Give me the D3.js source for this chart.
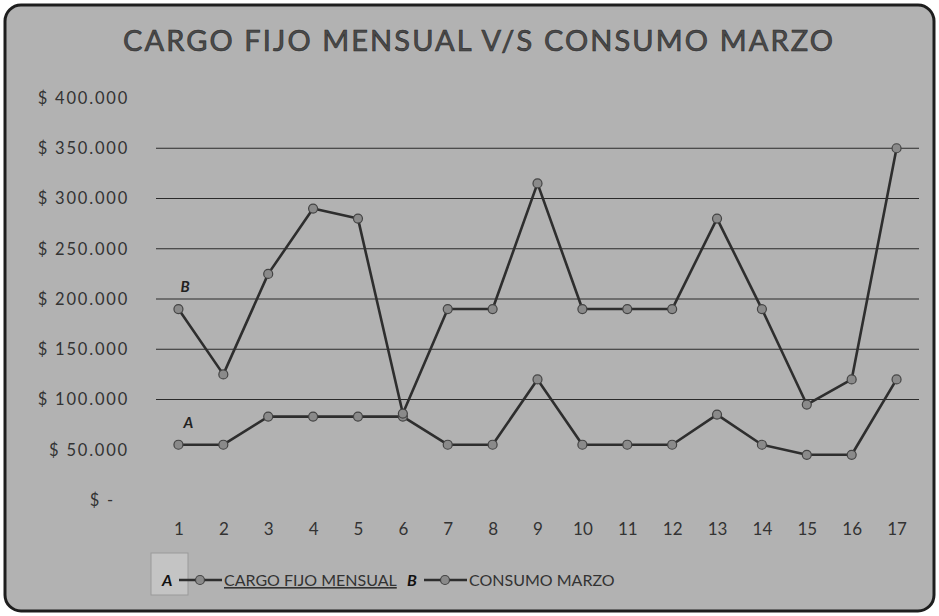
<!DOCTYPE html>
<html>
<head>
<meta charset="utf-8">
<script src="https://cdn.jsdelivr.net/npm/d3@7"></script>
<style>
  body { margin: 0; background: #fff; }
  text { font-family: Lato, "Open Sans", sans-serif; }
</style>
</head>
<body>
<div id="chart"></div>
<script>
const W = 939, H = 616;

// data
const days = d3.range(1, 18).map(String);
const cargoFijo = [55000, 55000, 83000, 83000, 83000, 83000, 55000, 55000, 120000, 55000, 55000, 55000, 85000, 55000, 45000, 45000, 120000];
const consumoMarzo = [190000, 125000, 225000, 290000, 280000, 86000, 190000, 190000, 315000, 190000, 190000, 190000, 280000, 190000, 95000, 120000, 350000];
const yTicks = [0, 50000, 100000, 150000, 200000, 250000, 300000, 350000, 400000];
const gridTicks = [100000, 150000, 200000, 250000, 300000, 350000];
const seriesNames = ["CARGO FIJO MENSUAL", "CONSUMO MARZO"];
const seriesTags = ["A", "B"];

const plot = {left: 156, right: 919, top: 98, bottom: 500};

const svg = d3.select("#chart").append("svg")
  .attr("width", W).attr("height", H);

//--------------------------- FRAME
svg.append("rect")
  .attr("x", 5).attr("y", 5)
  .attr("width", W - 10).attr("height", H - 10)
  .attr("rx", 16)
  .attr("fill", "#b2b2b2")
  .attr("stroke", "#1e1e1e")
  .attr("stroke-width", 3);

svg.append("text")
  .attr("x", 479).attr("y", 51)
  .attr("text-anchor", "middle")
  .attr("font-size", 29)
  .attr("letter-spacing", 2.1)
  .attr("fill", "#4a4a4a")
  .attr("stroke", "#2a2a2a")
  .attr("stroke-width", 0.6)
  .text("CARGO FIJO MENSUAL V/S CONSUMO MARZO");

//--------------------------- SCALES
const x = d3.scalePoint()
  .domain(days)
  .range([plot.left, plot.right])
  .padding(0.5);

const y = d3.scaleLinear()
  .domain([0, 400000])
  .range([plot.bottom, plot.top]);

//--------------------------- GRID
svg.append("g")
  .selectAll("line")
  .data(gridTicks)
  .join("line")
    .attr("x1", plot.left).attr("x2", plot.right)
    .attr("y1", d => y(d)).attr("y2", d => y(d))
    .attr("stroke", "#2b2b2b")
    .attr("stroke-width", 1);

//--------------------------- AXES
const fmt = d => d === 0 ? "$ -" : "$ " + d3.format(",")(d).replace(/,/g, ".");

const yAxis = svg.append("g")
  .attr("transform", `translate(129,0)`)
  .call(d3.axisLeft(y).tickValues(yTicks).tickSize(0).tickFormat(fmt));
yAxis.select(".domain").remove();
yAxis.selectAll("text")
  .attr("x", d => d === 0 ? -14 : 0)
  .attr("font-size", 16.5)
  .attr("letter-spacing", 1.8)
  .attr("fill", "#333")
  .style("font-family", "Lato, sans-serif");

const xAxis = svg.append("g")
  .attr("transform", `translate(0,520)`)
  .call(d3.axisBottom(x).tickSize(0));
xAxis.select(".domain").remove();
xAxis.selectAll("text")
  .attr("font-size", 17)
  .attr("fill", "#333")
  .style("font-family", "Lato, sans-serif");

//--------------------------- LINES
const line = d3.line()
  .x((d, i) => x(days[i]))
  .y(d => y(d));

const allSeries = [cargoFijo, consumoMarzo];

allSeries.forEach((vals, k) => {
  svg.append("path")
    .datum(vals)
    .attr("d", line)
    .attr("fill", "none")
    .attr("stroke", "#2e2e2e")
    .attr("stroke-width", 2.6)
    .attr("stroke-linejoin", "round");

  svg.append("g")
    .selectAll("circle")
    .data(vals)
    .join("circle")
      .attr("cx", (d, i) => x(days[i]))
      .attr("cy", d => y(d))
      .attr("r", 4.5)
      .attr("fill", "#8a8a8a")
      .attr("stroke", "#444")
      .attr("stroke-width", 1.2);
});

// series tags beside first point
svg.append("text")
  .attr("x", x(days[0]) + 2).attr("y", y(consumoMarzo[0]) - 17)
  .attr("font-size", 15).attr("font-weight", "bold").attr("font-style", "italic")
  .attr("fill", "#222")
  .text(seriesTags[1]);
svg.append("text")
  .attr("x", x(days[0]) + 5).attr("y", y(cargoFijo[0]) - 17)
  .attr("font-size", 15).attr("font-weight", "bold").attr("font-style", "italic")
  .attr("fill", "#222")
  .text(seriesTags[0]);

//--------------------------- LEGEND
const legendY = 580;
svg.append("rect")
  .attr("x", 151).attr("y", 553)
  .attr("width", 37).attr("height", 42)
  .attr("fill", "#c4c4c4")
  .attr("stroke", "#9a9a9a");

const legendX = [162, 407];
seriesNames.forEach((name, k) => {
  const lg = svg.append("g").attr("transform", `translate(${legendX[k]},${legendY})`);
  lg.append("text")
    .attr("x", 0).attr("y", 6)
    .attr("font-size", 16).attr("font-weight", "bold").attr("font-style", "italic")
    .attr("fill", "#111")
    .text(seriesTags[k]);
  lg.append("line")
    .attr("x1", 17).attr("x2", 60)
    .attr("y1", 0).attr("y2", 0)
    .attr("stroke", "#2e2e2e").attr("stroke-width", 2.6);
  lg.append("circle")
    .attr("cx", 38).attr("cy", 0).attr("r", 4.5)
    .attr("fill", "#8a8a8a").attr("stroke", "#444").attr("stroke-width", 1.2);
  lg.append("text")
    .attr("x", 62).attr("y", 6)
    .attr("font-size", 16)
    .attr("fill", "#333")
    .attr("text-decoration", k === 0 ? "underline" : null)
    .text(name);
});
</script>
</body>
</html>
